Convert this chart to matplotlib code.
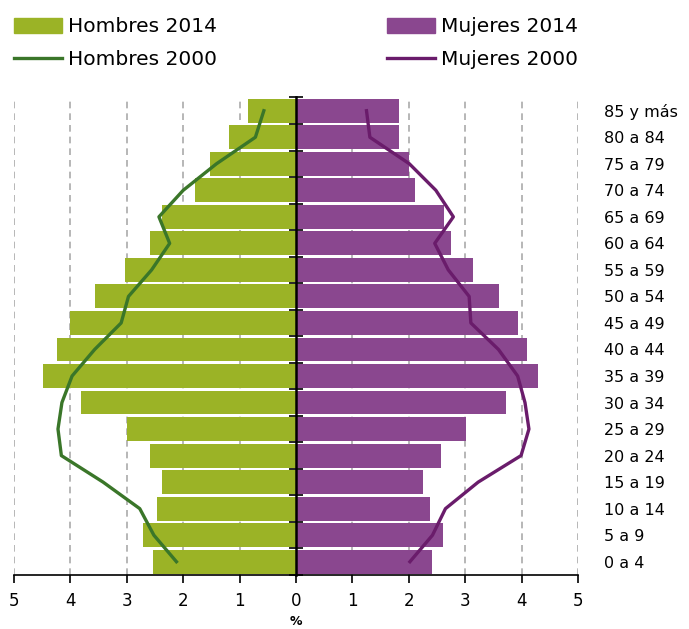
import numpy as np
import matplotlib.pyplot as plt
from matplotlib.patches import Patch
from matplotlib.lines import Line2D

# age groups, bottom to top
grupos = ["0 a 4", "5 a 9", "10 a 14", "15 a 19", "20 a 24", "25 a 29",
          "30 a 34", "35 a 39", "40 a 44", "45 a 49", "50 a 54", "55 a 59",
          "60 a 64", "65 a 69", "70 a 74", "75 a 79", "80 a 84", "85 y más"]

# percent of population
hombres_2014 = [2.54, 2.72, 2.47, 2.38, 2.59, 3.00, 3.82, 4.48, 4.23, 4.01,
                3.57, 3.04, 2.58, 2.37, 1.79, 1.53, 1.19, 0.85]
mujeres_2014 = [2.41, 2.61, 2.38, 2.25, 2.57, 3.01, 3.72, 4.29, 4.10, 3.94,
                3.60, 3.14, 2.75, 2.62, 2.11, 2.01, 1.83, 1.83]
hombres_2000 = [2.12, 2.52, 2.77, 3.42, 4.16, 4.22, 4.15, 3.97, 3.57, 3.10,
                2.97, 2.56, 2.24, 2.43, 2.00, 1.41, 0.72, 0.57]
mujeres_2000 = [2.02, 2.42, 2.65, 3.23, 3.99, 4.13, 4.06, 3.93, 3.59, 3.10,
                3.07, 2.70, 2.46, 2.79, 2.48, 2.01, 1.31, 1.25]

verde = "#9BB326"
morado = "#8A478F"
verde_osc = "#3A7629"
morado_osc = "#6A1C6B"

y = np.arange(len(grupos))

fig = plt.figure(figsize=(6.89, 6.29), dpi=100)
ax = fig.add_axes([0.0203, 0.0859, 0.8186, 0.760])

ax.barh(y, -np.array(hombres_2014), height=0.9, color=verde, zorder=2)
ax.barh(y, mujeres_2014, height=0.9, color=morado, zorder=2)
ax.plot(-np.array(hombres_2000), y, color=verde_osc, lw=2.4, zorder=3)
ax.plot(mujeres_2000, y, color=morado_osc, lw=2.4, zorder=3)

ax.set_xlim(-5, 5)
ax.set_ylim(-0.46, 17.52)

# dashed grid, not at 0
for v in [-5, -4, -3, -2, -1, 1, 2, 3, 4, 5]:
    ax.axvline(v, color="#AAAAAA", ls=(0, (4, 3)), lw=1.2, zorder=1)

ax.set_xticks(range(-5, 6))
ax.set_xticklabels([str(abs(v)) for v in range(-5, 6)], fontsize=12)
ax.tick_params(axis="x", direction="out", length=6, width=1.2, pad=6)

for s in ["top", "right"]:
    ax.spines[s].set_visible(False)
ax.spines["left"].set_position(("data", 0))
ax.spines["left"].set_linewidth(1.8)
ax.spines["left"].set_zorder(4)
ax.spines["bottom"].set_linewidth(1.2)

ax.set_yticks(np.arange(-0.5, 18, 1))
ax.set_yticks(y, minor=True)
ax.tick_params(axis="y", which="major", direction="inout", length=10, width=1.2, labelleft=False)
ax.tick_params(axis="y", which="minor", direction="out", length=5, width=1.2, labelleft=False)

# age labels on the right
ax2 = ax.twinx()
ax2.set_ylim(ax.get_ylim())
ax2.set_yticks(y)
ax2.set_yticklabels(grupos, fontsize=11.5)
ax2.tick_params(axis="y", length=0, pad=19)
for s in ax2.spines.values():
    s.set_visible(False)

ax.set_xlabel("%", fontsize=9, fontweight="bold", labelpad=4)

handles = [Patch(color=verde), Line2D([], [], color=verde_osc, lw=2.4),
           Patch(color=morado), Line2D([], [], color=morado_osc, lw=2.4)]
labels = ["Hombres 2014", "Hombres 2000", "Mujeres 2014", "Mujeres 2000"]
fig.legend(handles, labels, ncol=2, loc="upper left", bbox_to_anchor=(0.0, 0.995),
           frameon=False, fontsize=14.5, handlelength=2.4, handleheight=0.75,
           handletextpad=0.3, columnspacing=8.4, labelspacing=0.7,
           borderaxespad=0.3)

fig.savefig("out.png", dpi=100)
